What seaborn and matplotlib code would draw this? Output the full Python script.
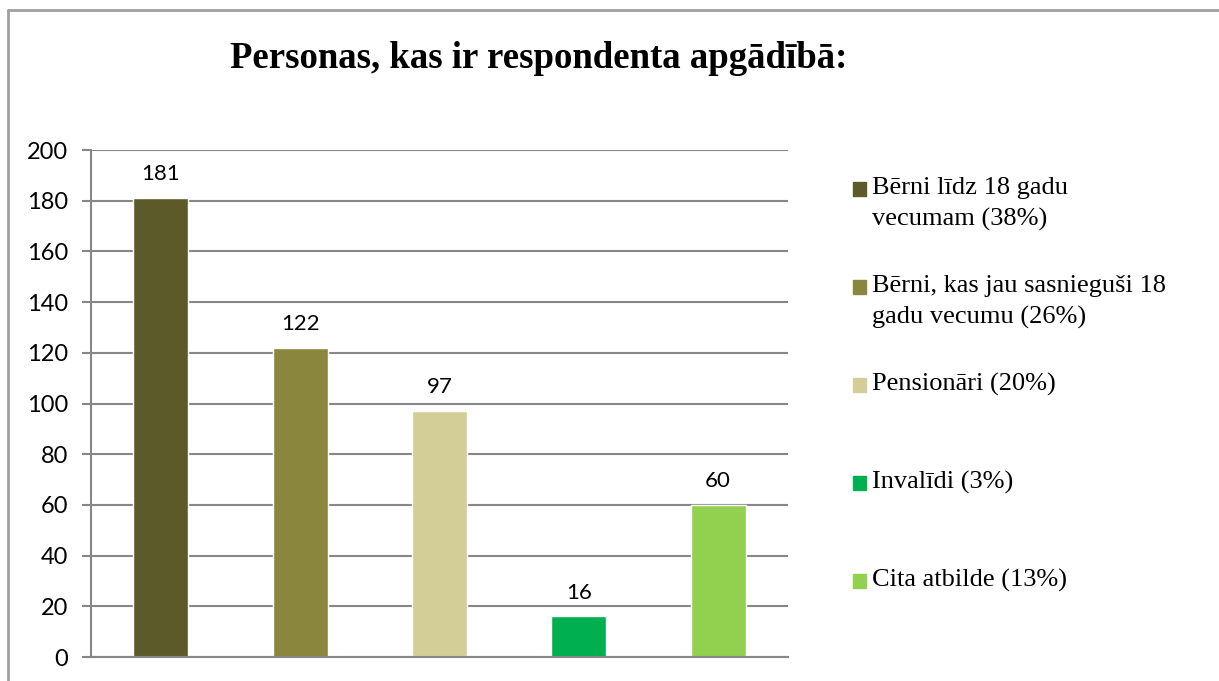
import pandas as pd
import seaborn as sns
import matplotlib.pyplot as plt
from matplotlib.patches import Rectangle
from matplotlib.lines import Line2D

# dati
kategorijas = ['Bērni līdz 18 gadu vecumam', 'Bērni, kas jau sasnieguši 18 gadu vecumu',
               'Pensionāri', 'Invalīdi', 'Cita atbilde']
skaits = [181, 122, 97, 16, 60]
procenti = [38, 26, 20, 3, 13]
legendas_teksti = ['Bērni līdz 18 gadu\nvecumam (38%)',
                   'Bērni, kas jau sasnieguši 18\ngadu vecumu (26%)',
                   'Pensionāri (20%)',
                   'Invalīdi (3%)',
                   'Cita atbilde (13%)']
krasas = ['#5D5A2A', '#8B863D', '#D3CE97', '#00AF50', '#92D050']
y_ticks = list(range(0, 201, 20))

sns.set_style('white')
plt.rcParams['font.family'] = ['Lato', 'DejaVu Sans']
plt.rcParams['text.color'] = 'black'
plt.rcParams['ytick.labelcolor'] = 'black'

df = pd.DataFrame({'kategorija': kategorijas, 'skaits': skaits})

fig = plt.figure(figsize=(12.19, 6.81), dpi=100)
ax = fig.add_axes([0.0747, 0.0352, 0.5715, 0.7445])

sns.barplot(data=df, x='kategorija', y='skaits', hue='kategorija',
            palette=krasas, width=0.395, legend=False, ax=ax, saturation=1)

for c in ax.containers:
    ax.bar_label(c, padding=10, fontsize=16, color='black')

ax.set_ylim(0, 200)
ax.set_xlim(-0.5, len(kategorijas) - 0.5)
ax.set_yticks(y_ticks)
ax.set_xticks([])
ax.set_xlabel('')
ax.set_ylabel('')
ax.yaxis.grid(True, color='#878787', linewidth=1.5)
ax.set_axisbelow(True)
for s in ['top', 'right']:
    ax.spines[s].set_visible(False)
for s in ['left', 'bottom']:
    ax.spines[s].set_color('#878787')
    ax.spines[s].set_linewidth(1.5)
ax.tick_params(axis='y', which='major', left=True, length=6.5, width=1.5,
               color='#878787', labelsize=17, pad=10, direction='out',
               labelcolor='black')

# virsraksts
fig.text(539 / 1219, 1 - 59 / 681, 'Personas, kas ir respondenta apgādībā:',
         family='Liberation Serif', fontweight='bold', fontsize=26.5,
         ha='center', va='center', color='black')

# legenda (kvadrāts pie pirmās rindas)
y0 = 189
for i, (txt, col) in enumerate(zip(legendas_teksti, krasas)):
    yc = y0 + i * 98
    fig.add_artist(Rectangle((853 / 1219, 1 - (yc + 7) / 681), 13 / 1219, 14 / 681,
                             transform=fig.transFigure, color=col))
    fig.text(872 / 1219, 1 - (yc - 12) / 681, txt, family='Liberation Serif',
             fontsize=19, ha='left', va='top', linespacing=1.5, color='black')

# rāmis
fig.add_artist(Line2D([8 / 1219, 1.0], [1 - 10 / 681, 1 - 10 / 681],
                      transform=fig.transFigure, color='#A0A0A0', linewidth=2))
fig.add_artist(Line2D([8 / 1219, 8 / 1219], [0, 1 - 10 / 681],
                      transform=fig.transFigure, color='#A0A0A0', linewidth=2))

fig.savefig('out.png', dpi=100)
